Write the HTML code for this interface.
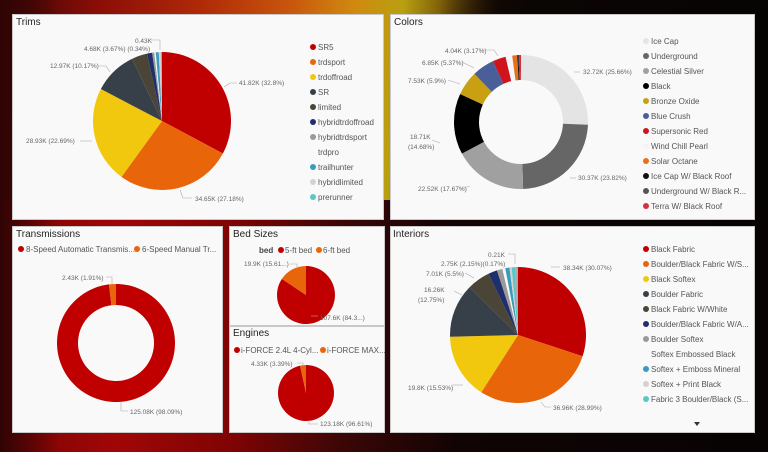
<!DOCTYPE html>
<html><head><meta charset="utf-8"><style>
*{margin:0;padding:0}
body{width:768px;height:452px;overflow:hidden;position:relative;font-family:"Liberation Sans",sans-serif;
background:#0a0404;}
.bg{position:absolute;inset:0;
background:
linear-gradient(100deg,rgba(0,0,0,0) 0%,rgba(0,0,0,0) 52%,#0b0604 62%,#050303 100%),
linear-gradient(95deg,#3a0606 0%,#8a0d06 12%,#b02a08 25%,#c8560c 36%,#d08a10 44%,#b8a010 50%,#7a5a0a 55%,#1a0a04 62%,#080404 100%);}
.bg2{position:absolute;left:0;top:200px;width:768px;height:252px;
background:linear-gradient(90deg,#7a0404 0%,#a00606 15%,#800404 30%,#3a0606 45%,#100404 60%,#070303 100%);}
.bg3{position:absolute;left:0;top:0;width:60px;height:452px;background:linear-gradient(90deg,#300404,rgba(60,4,4,0));}
.p{position:absolute;background:#f9f9f9;border:1px solid #c8c8c8;}
svg{position:absolute;left:0;top:0}
</style></head><body>
<div class="bg"></div><div class="bg2"></div><div class="bg3"></div>
<div class="p" style="left:12px;top:14px;width:370px;height:204px"></div>
<div class="p" style="left:390px;top:14px;width:363px;height:204px"></div>
<div class="p" style="left:12px;top:226px;width:209px;height:205px"></div>
<div class="p" style="left:229px;top:226px;width:154px;height:98px"></div>
<div class="p" style="left:229px;top:326px;width:154px;height:105px"></div>
<div class="p" style="left:390px;top:226px;width:363px;height:205px"></div>
<svg id="s" width="768" height="452" xmlns="http://www.w3.org/2000/svg" font-family="Liberation Sans, sans-serif">
<g font-size="10" fill="#252423">
<text x="16" y="25">Trims</text>
<text x="394" y="25">Colors</text>
<text x="16" y="237">Transmissions</text>
<text x="233" y="237">Bed Sizes</text>
<text x="233" y="336">Engines</text>
<text x="393" y="237">Interiors</text>
</g>
<g id="g"></g>
<g font-size="6.5" fill="#666">
<text x="239" y="85">41.82K (32.8%)</text>
<text x="195" y="201">34.65K (27.18%)</text>
<text x="26" y="143">28.93K (22.69%)</text>
<text x="50" y="68">12.97K (10.17%)</text>
<text x="84" y="51">4.68K (3.67%) (0.34%)</text>
<text x="135" y="43">0.43K</text>
<text x="583" y="74">32.72K (25.66%)</text>
<text x="578" y="180">30.37K (23.82%)</text>
<text x="418" y="191">22.52K (17.67%)</text>
<text x="410" y="139">18.71K</text>
<text x="408" y="149">(14.68%)</text>
<text x="408" y="83">7.53K (5.9%)</text>
<text x="422" y="65">6.85K (5.37%)</text>
<text x="445" y="53">4.04K (3.17%)</text>
<text x="62" y="280">2.43K (1.91%)</text>
<text x="130" y="414">125.08K (98.09%)</text>
<text x="244" y="266">19.9K (15.61...)</text>
<text x="320" y="320">107.6K (84.3...)</text>
<text x="251" y="366">4.33K (3.39%)</text>
<text x="320" y="426">123.18K (96.61%)</text>
<text x="563" y="270">38.34K (30.07%)</text>
<text x="553" y="410">36.96K (28.99%)</text>
<text x="408" y="390">19.8K (15.53%)</text>
<text x="424" y="292">16.26K</text>
<text x="418" y="302">(12.75%)</text>
<text x="426" y="276">7.01K (5.5%)</text>
<text x="441" y="266">2.75K (2.15%)(0.17%)</text>
<text x="488" y="257">0.21K</text>
</g>
<g stroke="#aaa" stroke-width="0.6" fill="none">
<polyline points="224,87 230,83 237,83"/><polyline points="180,190 183,198 192,198"/>
<polyline points="80,141 92,141"/><polyline points="99,66 106,66 110,72"/>
<polyline points="151,40 160,40 160,50"/>
<polyline points="574,72 580,72"/><polyline points="570,178 576,178"/><polyline points="460,189 470,186"/>
<polyline points="432,140 440,143"/><polyline points="448,80 460,84"/><polyline points="462,62 474,68"/><polyline points="482,50 494,50 498,56"/>
<polyline points="106,277 112,277 112,284"/><polyline points="121,402 121,411 128,411"/>
<polyline points="290,264 297,264 297,267"/><polyline points="311,316 318,316"/>
<polyline points="297,363 303,363 303,366"/><polyline points="309,420 309,424 318,424"/>
<polyline points="551,267 560,267"/><polyline points="541,402 545,407 551,407"/><polyline points="452,385 463,385"/>
<polyline points="454,291 462,295"/><polyline points="465,273 474,278"/><polyline points="508,254 515,254 515,264"/>
</g>
<g id="leg" font-size="8" fill="#555"></g>
<g font-size="8" fill="#555">
<circle cx="21" cy="249" r="3" fill="#c00000"/><text x="26" y="252">8-Speed Automatic Transmis...</text>
<circle cx="137" cy="249" r="3" fill="#e8650a"/><text x="142" y="252">6-Speed Manual Tr...</text>
<text x="259" y="253" font-weight="bold" fill="#444">bed</text>
<circle cx="281" cy="250" r="3" fill="#c00000"/><text x="285" y="253">5-ft bed</text>
<circle cx="319" cy="250" r="3" fill="#e8650a"/><text x="323" y="253">6-ft bed</text>
<circle cx="237" cy="350" r="3" fill="#c00000"/><text x="241" y="353">i-FORCE 2.4L 4-Cyl...</text>
<circle cx="323" cy="350" r="3" fill="#e8650a"/><text x="327" y="353">i-FORCE MAX...</text>
<path d="M694,422 h6 l-3,4z" fill="#333"/>
</g>
</svg>
<script>
var g=document.getElementById('g'),L=document.getElementById('leg'),NS='http://www.w3.org/2000/svg';
function pie(cx,cy,r,ri,sl){var a=0,t=0;sl.forEach(s=>t+=s[0]);sl.forEach(s=>{var b=a+s[0]/t*2*Math.PI;
var p=(ang,rr)=>[cx+rr*Math.sin(ang),cy-rr*Math.cos(ang)];var lg=(b-a)>Math.PI?1:0;
var o1=p(a,r),o2=p(b,r),d;
if(ri){var i1=p(b,ri),i2=p(a,ri);d=`M${o1}A${r},${r} 0 ${lg} 1 ${o2}L${i1}A${ri},${ri} 0 ${lg} 0 ${i2}Z`;}
else d=`M${cx},${cy}L${o1}A${r},${r} 0 ${lg} 1 ${o2}Z`;
var e=document.createElementNS(NS,'path');e.setAttribute('d',d);e.setAttribute('fill',s[1]);g.appendChild(e);a=b;});}
function leg(x,y,items){items.forEach((it,i)=>{var yy=y+i*15;if(it[1]){var c=document.createElementNS(NS,'circle');c.setAttribute('cx',x);c.setAttribute('cy',yy);c.setAttribute('r',3);c.setAttribute('fill',it[1]);L.appendChild(c);}
var t=document.createElementNS(NS,'text');t.setAttribute('x',x+5);t.setAttribute('y',yy+3);t.textContent=it[0];L.appendChild(t);});}
pie(162,121,69,0,[[32.8,'#c00000'],[27.18,'#e8650a'],[22.69,'#f2c80f'],[10.17,'#374049'],[3.67,'#4a4536'],[1.2,'#1f2f6b'],[0.5,'#9a9a9a'],[0.34,'#f7f7f7'],[0.7,'#3a9bbf'],[0.5,'#d8d0d0'],[0.25,'#5bc8c8']]);
pie(521,122,67,42,[[25.66,'#e4e4e4'],[23.82,'#666'],[17.67,'#a0a0a0'],[14.68,'#000'],[5.9,'#c8a012'],[5.37,'#4a5f9a'],[3.17,'#d0141e'],[1.6,'#f7f7f7'],[1.2,'#e8701a'],[0.3,'#111'],[0.3,'#555'],[0.3,'#d93040']]);
pie(116,343,59,38,[[98.09,'#c00000'],[1.91,'#e8650a']]);
pie(306,295,29,0,[[84.39,'#c00000'],[15.61,'#e8650a']]);
pie(306,393,28,0,[[96.61,'#c00000'],[3.39,'#e8650a']]);
pie(518,335,68,0,[[30.07,'#c00000'],[28.99,'#e8650a'],[15.53,'#f2c80f'],[12.75,'#374049'],[5.5,'#4a4536'],[2.15,'#1f2f6b'],[1.3,'#9a9a9a'],[0.7,'#f7f7f7'],[1.0,'#3a9bbf'],[0.5,'#d8d0d0'],[0.8,'#5bc8c8'],[0.7,'#aaa']]);
leg(313,47,[['SR5','#c00000'],['trdsport','#e8650a'],['trdoffroad','#f2c80f'],['SR','#374049'],['limited','#4a4536'],['hybridtrdoffroad','#1f2f6b'],['hybridtrdsport','#9a9a9a'],['trdpro',''],['trailhunter','#3a9bbf'],['hybridlimited','#d8d0d0'],['prerunner','#5bc8c8']]);
leg(646,41,[['Ice Cap','#e4e4e4'],['Underground','#666'],['Celestial Silver','#a0a0a0'],['Black','#000'],['Bronze Oxide','#c8a012'],['Blue Crush','#4a5f9a'],['Supersonic Red','#d0141e'],['Wind Chill Pearl','#f4f4f4'],['Solar Octane','#e8701a'],['Ice Cap W/ Black Roof','#111'],['Underground W/ Black R...','#555'],['Terra W/ Black Roof','#d93040']]);
leg(646,249,[['Black Fabric','#c00000'],['Boulder/Black Fabric W/S...','#e8650a'],['Black Softex','#f2c80f'],['Boulder Fabric','#374049'],['Black Fabric W/White','#4a4536'],['Boulder/Black Fabric W/A...','#1f2f6b'],['Boulder Softex','#9a9a9a'],['Softex Embossed Black',''],['Softex + Emboss Mineral','#3a9bbf'],['Softex + Print Black','#d8d0d0'],['Fabric 3 Boulder/Black (S...','#5bc8c8']]);
</script>
</body></html>
